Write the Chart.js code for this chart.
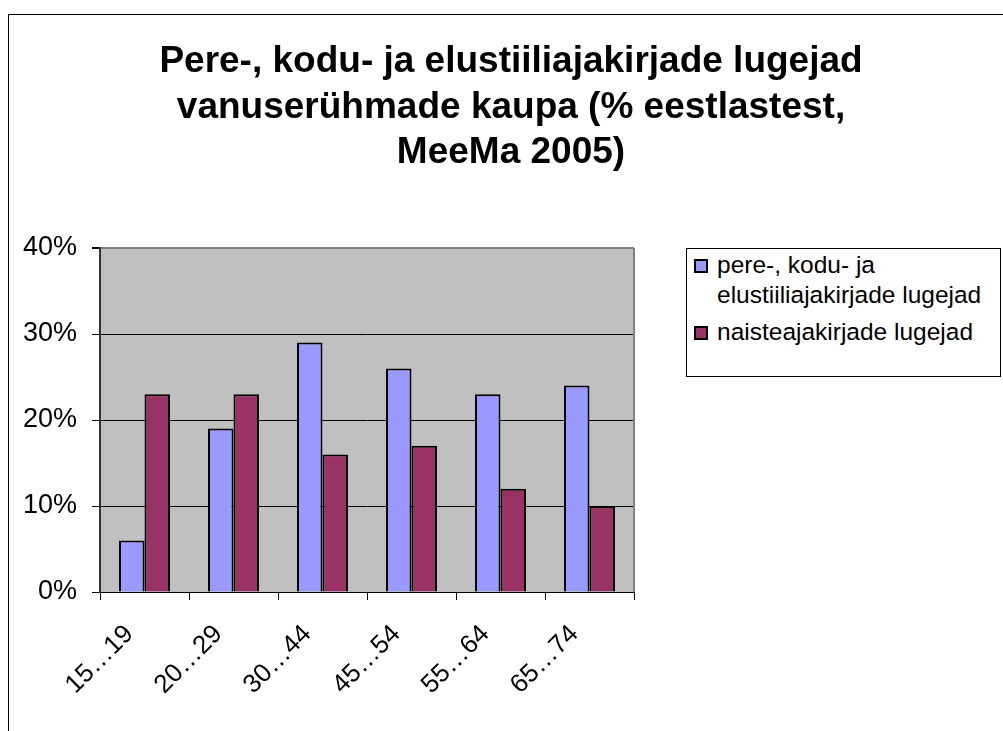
<!DOCTYPE html>
<html>
<head>
<meta charset="utf-8">
<script src="https://cdn.jsdelivr.net/npm/chart.js"></script>
<style>
body { margin: 0; background: #fff; }
#wrap { position: relative; width: 1003px; height: 731px; overflow: hidden; }
#frame { position: absolute; left: 8px; top: 14px; width: 1100px; height: 900px; border: 1px solid #000; }
#myChart { position: absolute; left: 0; top: 0; }
#legend {
    position: absolute; left: 686px; top: 248px; width: 315px; height: 129px;
    box-sizing: border-box; border: 1px solid #000; background: #fff;
    font-family: "Liberation Sans", Arial, sans-serif; font-size: 24.5px; line-height: 30px; color: #000;
}
.item { position: absolute; left: 30px; width: 282px; }
.swatch { position: absolute; left: -23px; top: 9px; width: 14px; height: 14px; box-sizing: border-box; border: 2px solid #000; }
</style>
</head>
<body>
<div id="wrap">
    <div id="frame"></div>
    <canvas id="myChart" width="1003" height="731"></canvas>
    <div id="legend"></div>
</div>
<script>
const titleLines = ['Pere-, kodu- ja elustiiliajakirjade lugejad', 'vanuserühmade kaupa (% eestlastest,', 'MeeMa 2005)'];
const ageGroups = ['15…19', '20…29', '30…44', '45…54', '55…64', '65…74'];
const pereKoduValues = [6, 19, 29, 26, 23, 24];
const naisteValues = [23, 23, 16, 17, 12, 10];
const seriesNames = ['pere-, kodu- ja elustiiliajakirjade lugejad', 'naisteajakirjade lugejad'];
const seriesColors = ['#9999FF', '#993366'];

const FONT = '"Liberation Sans", Arial, sans-serif';

// gray plot area, right border and title
const chartDecor = {
    id: 'chartDecor',
    beforeDraw(chart) {
        let ctx = chart.ctx, a = chart.chartArea;
        ctx.save();
        ctx.fillStyle = '#C0C0C0';
        ctx.fillRect(a.left, a.top, a.right - a.left, a.bottom - a.top);
        ctx.restore();
    },
    afterDraw(chart) {
        let ctx = chart.ctx, a = chart.chartArea;
        ctx.save();
        ctx.strokeStyle = '#808080';
        ctx.lineWidth = 2;
        ctx.beginPath();
        ctx.moveTo(a.right, a.top);
        ctx.lineTo(a.right, a.bottom);
        ctx.stroke();
        ctx.fillStyle = '#000';
        ctx.font = 'bold 37px ' + FONT;
        ctx.textAlign = 'center';
        ctx.textBaseline = 'alphabetic';
        titleLines.forEach((line, i) => ctx.fillText(line, 511, 72 + i * 45.5));
        ctx.restore();
    }
};

var ctx = document.getElementById('myChart').getContext('2d');
var chart = new Chart(ctx, {
    type: 'bar',
    data: {
        labels: ageGroups,
        datasets: [
            { label: seriesNames[0], data: pereKoduValues, backgroundColor: seriesColors[0],
              borderColor: '#000', borderWidth: 2 },
            { label: seriesNames[1], data: naisteValues, backgroundColor: seriesColors[1],
              borderColor: '#000', borderWidth: 2 }
        ]
    },
    options: {
        responsive: false,
        animation: false,
        layout: { padding: { top: 248, right: 369, left: 0, bottom: 0 } },
        datasets: { bar: { categoryPercentage: 0.573, barPercentage: 1 } },
        plugins: {
            legend: { display: false },
            tooltip: { enabled: false },
            title: { display: false }
        },
        scales: {
            x: {
                grid: { drawOnChartArea: false, color: '#000', tickLength: 8, offset: true },
                border: { color: '#000', width: 1 },
                ticks: {
                    color: '#000', font: { family: FONT, size: 26 },
                    minRotation: 45, maxRotation: 45, padding: 19, labelOffset: -15
                },
                afterFit(scale) { scale.height = 139; }
            },
            y: {
                min: 0, max: 40,
                grid: {
                    color: c => c.tick && c.tick.value === 40 ? '#808080' : '#000',
                    lineWidth: c => c.tick && c.tick.value === 40 ? 2 : 1,
                    tickColor: '#000', tickLength: 8
                },
                border: { color: '#333', width: 2 },
                ticks: {
                    stepSize: 10, color: '#000', padding: 15,
                    font: { family: FONT, size: 27 },
                    callback: v => v + '%'
                },
                afterFit(scale) { scale.width = 100; }
            }
        }
    },
    plugins: [chartDecor]
});

// legend box built from the datasets
let legend = document.getElementById('legend');
let tops = [1, 68];
chart.data.datasets.forEach(function(ds, i) {
    let item = document.createElement('div');
    item.className = 'item';
    item.style.top = tops[i] + 'px';
    let sw = document.createElement('span');
    sw.className = 'swatch';
    sw.style.background = ds.backgroundColor;
    item.appendChild(sw);
    item.appendChild(document.createTextNode(ds.label));
    legend.appendChild(item);
});
</script>
</body>
</html>
